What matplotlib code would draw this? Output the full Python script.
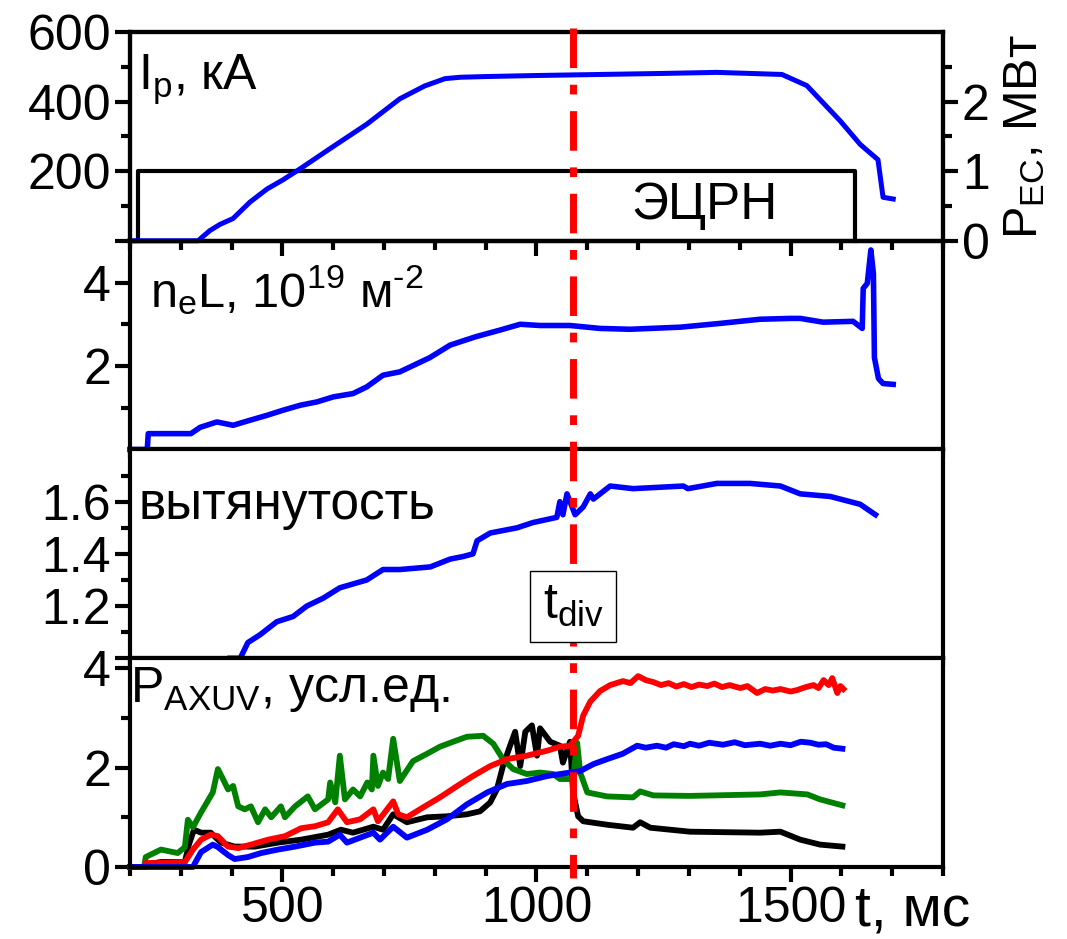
import numpy as np
import matplotlib
matplotlib.use("Agg")
import matplotlib.pyplot as plt
from matplotlib.lines import Line2D
from matplotlib.ticker import MultipleLocator, FixedLocator
from matplotlib.transforms import blended_transform_factory

plt.rcParams['font.family'] = ['Liberation Sans', 'DejaVu Sans']
plt.rcParams['mathtext.fontset'] = 'custom'
plt.rcParams['mathtext.rm'] = 'Liberation Sans'
plt.rcParams['mathtext.it'] = 'Liberation Sans:italic'
plt.rcParams['mathtext.bf'] = 'Liberation Sans:bold'

# --- panel 1: plasma current, kA
ip_t = [200, 334, 357, 377, 403, 436, 470, 501, 535, 600, 666, 731, 780, 820, 850,
        900, 1000, 1125, 1250, 1355, 1483, 1532, 1598, 1637, 1672, 1682, 1702]
ip_v = [0, 0, 29, 47, 64, 111, 149, 175, 207, 271, 335, 408, 445, 466, 470,
        472, 475, 478, 481, 484, 478, 446, 344, 277, 233, 125, 120]

# ECRH power, MW
ec_t = [200, 216, 216, 1627, 1627]
ec_v = [0, 0, 1, 1, 0]

# --- panel 2: line density, 1e19 m^-2
ne_t = [200, 234, 236, 320, 338, 371, 403, 436, 470, 501, 535, 568, 600, 639, 666,
        698, 731, 790, 830, 880, 928, 968, 1007, 1066, 1125, 1184, 1283, 1361, 1440,
        1500, 1519, 1564, 1623, 1641, 1643, 1651, 1658, 1663, 1665, 1673, 1682, 1702]
ne_v = [0, 0, 0.38, 0.38, 0.53, 0.66, 0.58, 0.70, 0.82, 0.94, 1.06, 1.14, 1.26, 1.34, 1.50,
        1.78, 1.86, 2.20, 2.50, 2.70, 2.86, 3.00, 2.97, 2.97, 2.90, 2.88, 2.93, 3.02, 3.12,
        3.14, 3.14, 3.05, 3.07, 2.90, 3.86, 3.98, 4.78, 4.22, 2.20, 1.70, 1.58, 1.56]

# --- panel 3: elongation
el_t = [397, 417, 432, 456, 489, 521, 548, 580, 613, 666, 698, 731, 791, 830, 856, 875,
        883, 909, 962, 993, 1040, 1046, 1052, 1060, 1076, 1092, 1106, 1112, 1145, 1190,
        1289, 1298, 1355, 1420, 1480, 1519, 1578, 1637, 1667]
el_v = [1.00, 1.00, 1.06, 1.09, 1.14, 1.16, 1.20, 1.23, 1.27, 1.30, 1.34, 1.34, 1.35, 1.38,
        1.39, 1.40, 1.45, 1.48, 1.50, 1.52, 1.54, 1.60, 1.55, 1.63, 1.55, 1.58, 1.63, 1.61,
        1.66, 1.65, 1.66, 1.65, 1.67, 1.67, 1.66, 1.63, 1.62, 1.59, 1.55]

# --- panel 4: AXUV signals, a.u.
gr_t = [200, 228, 231, 261, 294, 308, 314, 324, 340, 363, 373, 383, 393, 403, 413, 426,
        438, 452, 466, 478, 497, 505, 525, 550, 564, 590, 594, 604, 613, 623, 639, 653,
        667, 676, 679, 688, 698, 708, 718, 731, 757, 785, 810, 836, 863, 895, 915, 934,
        954, 981, 1007, 1033, 1046, 1072, 1080, 1086, 1100, 1139, 1190, 1204, 1230, 1302,
        1440, 1480, 1533, 1558, 1602]
gr_v = [0, 0, 0.20, 0.35, 0.28, 0.40, 0.95, 0.80, 1.10, 1.50, 1.97, 1.77, 1.56, 1.63, 1.22,
        1.16, 1.22, 0.90, 1.16, 1.00, 1.22, 1.00, 1.22, 1.42, 1.16, 1.36, 1.70, 1.30, 2.24,
        1.36, 1.56, 1.42, 1.70, 1.56, 2.24, 1.63, 1.90, 1.77, 2.58, 1.73, 2.13, 2.28, 2.42,
        2.52, 2.62, 2.64, 2.48, 2.17, 1.97, 1.87, 1.90, 1.87, 1.77, 1.77, 2.50, 1.90, 1.50,
        1.42, 1.40, 1.52, 1.44, 1.43, 1.46, 1.50, 1.46, 1.36, 1.24]

rd_t = [200, 228, 231, 261, 308, 324, 340, 359, 373, 393, 413, 438, 472, 505, 537, 564,
        590, 609, 627, 653, 679, 688, 718, 728, 745, 777, 810, 844, 875, 909, 942, 981,
        1021, 1046, 1066, 1082, 1092, 1106, 1125, 1145, 1170, 1185, 1200, 1215, 1230, 1245,
        1260, 1275, 1290, 1305, 1320, 1336, 1350, 1365, 1380, 1401, 1415, 1434, 1450, 1465,
        1480, 1500, 1513, 1530, 1545, 1555, 1565, 1575, 1582, 1592, 1598, 1604]
rd_v = [0, 0, 0.08, 0.08, 0.10, 0.35, 0.55, 0.65, 0.62, 0.41, 0.38, 0.45, 0.55, 0.62, 0.78,
        0.82, 0.90, 1.16, 0.90, 0.96, 1.16, 0.92, 1.32, 1.06, 1.00, 1.20, 1.40, 1.63, 1.83,
        2.03, 2.17, 2.24, 2.34, 2.42, 2.44, 2.64, 3.05, 3.33, 3.54, 3.66, 3.74, 3.70, 3.84,
        3.76, 3.72, 3.66, 3.70, 3.63, 3.68, 3.62, 3.67, 3.64, 3.69, 3.62, 3.66, 3.60, 3.64,
        3.50, 3.58, 3.55, 3.58, 3.53, 3.56, 3.62, 3.66, 3.60, 3.76, 3.66, 3.80, 3.50, 3.64,
        3.58]

bl_t = [200, 324, 328, 340, 363, 373, 393, 406, 432, 458, 491, 525, 564, 590, 613, 627,
        653, 679, 692, 718, 745, 785, 824, 863, 903, 942, 981, 1021, 1046, 1086, 1112,
        1139, 1170, 1198, 1215, 1237, 1255, 1270, 1290, 1302, 1320, 1340, 1367, 1390,
        1410, 1440, 1460, 1480, 1500, 1520, 1539, 1555, 1570, 1585, 1602]
bl_v = [0, 0, 0.08, 0.30, 0.45, 0.40, 0.24, 0.16, 0.20, 0.28, 0.35, 0.41, 0.49, 0.51, 0.65,
        0.49, 0.59, 0.69, 0.55, 0.81, 0.59, 0.75, 0.96, 1.26, 1.50, 1.67, 1.73, 1.83, 1.87,
        1.93, 2.07, 2.17, 2.28, 2.44, 2.40, 2.44, 2.40, 2.47, 2.43, 2.48, 2.44, 2.50, 2.46,
        2.51, 2.45, 2.48, 2.44, 2.48, 2.45, 2.52, 2.50, 2.46, 2.47, 2.40, 2.38]

bk_t = [200, 228, 231, 261, 308, 316, 326, 340, 359, 379, 406, 446, 491, 537, 590, 615,
        639, 679, 698, 718, 745, 785, 824, 863, 889, 909, 922, 934, 948, 958, 968, 978,
        991, 1001, 1007, 1027, 1046, 1052, 1066, 1072, 1082, 1092, 1139, 1190, 1204, 1224,
        1302, 1440, 1480, 1519, 1558, 1602]
bk_v = [0, 0, 0.05, 0.10, 0.10, 0.45, 0.75, 0.69, 0.69, 0.49, 0.41, 0.41, 0.49, 0.55, 0.65,
        0.75, 0.69, 0.81, 0.75, 1.06, 0.90, 1.00, 1.02, 1.06, 1.12, 1.30, 1.56, 2.03, 2.44,
        2.72, 2.03, 2.72, 2.85, 2.24, 2.79, 2.52, 2.44, 2.10, 2.52, 1.50, 1.02, 0.92, 0.85,
        0.79, 0.90, 0.79, 0.71, 0.69, 0.71, 0.55, 0.45, 0.41]

t_div = 1072

BLUE = '#0000ff'
FS_TICK = 36
FS_LAB = 36

fig, axes = plt.subplots(4, 1, sharex=True, figsize=(10.67, 9.39), dpi=100,
                         gridspec_kw=dict(hspace=0))
fig.subplots_adjust(left=0.1218, right=0.8838, top=0.9659, bottom=0.0767)
ax1, ax2, ax3, ax4 = axes

for ax in axes:
    for s in ax.spines.values():
        s.set_linewidth(3)
    ax.tick_params(which='major', direction='out', length=10.5, width=3,
                   labelsize=FS_TICK, pad=3, top=False, right=False)
    ax.tick_params(which='minor', direction='out', length=6.5, width=3,
                   top=False, right=False)
    ax.xaxis.set_major_locator(FixedLocator([500, 1000, 1500]))
    ax.xaxis.set_minor_locator(MultipleLocator(100))
ax4.set_xlim(200, 1800)

# panel 1
ax1r = ax1.twinx()
ax1.set_zorder(ax1r.get_zorder() + 1)
ax1.patch.set_visible(False)
ax1r.plot(ec_t, ec_v, color='black', lw=3, clip_on=False)
ax1r.set_ylim(0, 3)
ax1r.yaxis.set_major_locator(FixedLocator([0, 1, 2]))
ax1r.yaxis.set_minor_locator(FixedLocator([0.5, 1.5, 2.5]))
ax1r.tick_params(which='major', direction='out', length=10.5, width=3,
                 labelsize=FS_TICK, pad=3)
ax1r.tick_params(which='minor', direction='out', length=6.5, width=3)
for s in ax1r.spines.values():
    s.set_linewidth(3)
ax1r.set_ylabel('P$_\\mathregular{EC}$, МВт', fontsize=35, labelpad=9)
ax1r.text(1330, 0.5, 'ЭЦРН', fontsize=37, ha='center', va='center')

ax1.plot(ip_t, ip_v, color=BLUE, lw=3.6, clip_on=False)
ax1.set_ylim(0, 600)
ax1.yaxis.set_major_locator(FixedLocator([0, 200, 400, 600]))
ax1.yaxis.set_minor_locator(FixedLocator([100, 300, 500]))
ax1.set_yticklabels(['', '200', '400', '600'])
ax1.text(0.01, 0.9, 'I$_\\mathregular{p}$, кА', transform=ax1.transAxes,
         fontsize=FS_LAB, ha='left', va='top')

# panel 2
ax2.plot(ne_t, ne_v, color=BLUE, lw=4, clip_on=False)
ax2.set_ylim(0, 5)
ax2.yaxis.set_major_locator(FixedLocator([2, 4]))
ax2.yaxis.set_minor_locator(FixedLocator([1, 3]))
ax2.text(0.025, 0.89, 'n$_\\mathregular{e}$L, 10$^\\mathregular{19}$ м$^\\mathregular{\u20102}$',
         transform=ax2.transAxes, fontsize=35, ha='left', va='top')

# panel 3
ax3.plot(el_t, el_v, color=BLUE, lw=4, clip_on=False)
ax3.set_ylim(1.0, 1.8)
ax3.yaxis.set_major_locator(FixedLocator([1.0, 1.2, 1.4, 1.6]))
ax3.yaxis.set_minor_locator(FixedLocator([1.1, 1.3, 1.5, 1.7]))
ax3.set_yticklabels(['', '1.2', '1.4', '1.6'])
ax3.text(0.01, 0.85, 'вытянутость', transform=ax3.transAxes,
         fontsize=37, ha='left', va='top')

# panel 4
ax4.plot(bk_t, bk_v, color='black', lw=4.2, clip_on=False)
ax4.plot(gr_t, gr_v, color='#008000', lw=4.2, clip_on=False)
ax4.plot(rd_t, rd_v, color='#ff0000', lw=4.2, clip_on=False)
ax4.plot(bl_t, bl_v, color=BLUE, lw=4.2, clip_on=False)
ax4.set_ylim(0, 4.2)
ax4.yaxis.set_major_locator(FixedLocator([0, 2, 4]))
ax4.yaxis.set_minor_locator(FixedLocator([1, 3]))
ax4.text(0.0, 0.97, 'P$_\\mathregular{AXUV}$, усл.ед.', transform=ax4.transAxes,
         fontsize=FS_LAB, ha='left', va='top')
ax4.text(0.892, -0.28, 't, мс', transform=ax4.transAxes,
         fontsize=41, ha='left', va='baseline')

# divertor time marker across all panels
tr = blended_transform_factory(ax4.transData, fig.transFigure)
fig.add_artist(Line2D([t_div, t_div], [1 - 28 / 939, 1 - 878 / 939], transform=tr,
                      color='#ff0000', lw=5, dashes=(5.7, 2.4, 1.4, 2.4), zorder=5))
fig.text(t_div, 1.2, 't$_\\mathregular{div}$', transform=ax3.transData, fontsize=36,
         ha='center', va='center', zorder=10,
         bbox=dict(boxstyle='square,pad=0.25', fc='white', ec='black', lw=1))

fig.savefig('out.png', dpi=100)
